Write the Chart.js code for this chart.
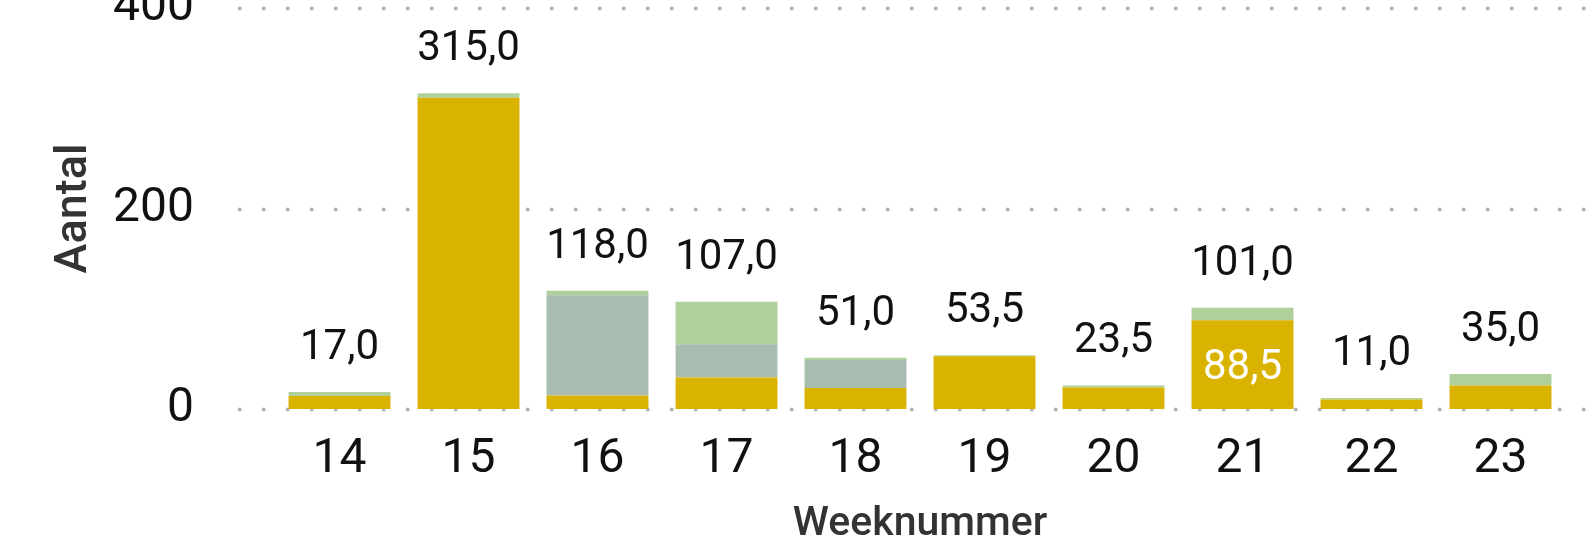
<!DOCTYPE html>
<html>
<head>
<meta charset="utf-8">
<script src="https://cdn.jsdelivr.net/npm/chart.js@4"></script>
<style>
  html, body { margin: 0; padding: 0; background: #fff; }
  #wrap { width: 1595px; height: 543px; }
</style>
</head>
<body>
<div id="wrap"><canvas id="myChart"></canvas></div>
<script>
// weeks and the three stacked series
const weeks = ['14', '15', '16', '17', '18', '19', '20', '21', '22', '23']
const geel = [13, 310.5, 13.5, 31.5, 21, 52.5, 21.5, 88.5, 9.5, 23.5]
const grijs = [0, 0, 100, 33, 28, 0, 0, 0, 0, 0]
const groen = [4, 4.5, 4.5, 42.5, 2, 1, 2, 12.5, 1.5, 11.5]
const yTicks = [0, 200, 400]
const insideLabelWeeks = ['21']

const fontFam = 'Roboto, "Noto Sans", sans-serif'

function fmt(v) {
  return v.toFixed(1).replace('.', ',')
}

// dotted grid lines that run past the plot area like in the original
const dotGrid = {
  id: 'dotGrid',
  beforeDatasetsDraw(chart) {
    const ctx = chart.ctx
    const y = chart.scales.y
    ctx.save()
    ctx.strokeStyle = '#b4b4b4'
    ctx.lineWidth = 3.5
    ctx.setLineDash([3.5, 20.5])
    yTicks.forEach(v => {
      const py = Math.round(y.getPixelForValue(v)) + 0.5
      ctx.beginPath()
      ctx.moveTo(chart.chartArea.left - 37, py)
      ctx.lineTo(chart.width, py)
      ctx.stroke()
    })
    ctx.restore()
  }
}

// totals above the bars + the one label inside the yellow part
const labels = {
  id: 'labels',
  afterDatasetsDraw(chart) {
    const ctx = chart.ctx
    ctx.save()
    ctx.textAlign = 'center'
    ctx.font = '42px ' + fontFam
    const top = chart.getDatasetMeta(2)
    const bottom = chart.getDatasetMeta(0)
    weeks.forEach((w, i) => {
      const total = geel[i] + grijs[i] + groen[i]
      const bar = top.data[i]
      ctx.fillStyle = '#111'
      ctx.textBaseline = 'alphabetic'
      ctx.fillText(fmt(total), bar.x, bar.y - 33)
      if (insideLabelWeeks.includes(w)) {
        const b = bottom.data[i]
        ctx.fillStyle = '#fff'
        ctx.textBaseline = 'middle'
        ctx.fillText(fmt(geel[i]), b.x, (b.y + b.base) / 2 + 4)
      }
    })
    ctx.restore()
  }
}

const ctx = document.getElementById('myChart')
new Chart(ctx, {
  type: 'bar',
  data: {
    labels: weeks,
    datasets: [
      { label: 'geel', data: geel, backgroundColor: '#d9b300' },
      { label: 'grijs', data: grijs, backgroundColor: '#a8bdb0' },
      { label: 'groen', data: groen, backgroundColor: '#afcf9b' }
    ]
  },
  options: {
    responsive: true,
    maintainAspectRatio: false,
    animation: false,
    layout: { padding: { top: 8, right: 30, left: 0, bottom: 0 } },
    datasets: { bar: { categoryPercentage: 1, barPercentage: 0.79, borderWidth: 0 } },
    plugins: { legend: { display: false }, tooltip: { enabled: false } },
    scales: {
      x: {
        stacked: true,
        grid: { display: false },
        border: { display: false },
        ticks: { color: '#111', font: { family: fontFam, size: 48 }, padding: 14 },
        title: {
          display: true, text: 'Weeknummer', color: '#333',
          font: { family: fontFam, size: 41, weight: '500', lineHeight: 0.9 },
          padding: { top: 0, bottom: 0 }
        },
        afterFit(s) { s.height = 134; s.paddingLeft = 0; s.paddingRight = 0 }
      },
      y: {
        stacked: true,
        min: 0,
        max: 400,
        grid: { display: false },
        border: { display: false },
        ticks: { stepSize: 200, color: '#111', font: { family: fontFam, size: 48 }, padding: 73 },
        title: {
          display: true, text: 'Aantal', color: '#333',
          font: { family: fontFam, size: 45, weight: '500', lineHeight: 1.2 },
          padding: { top: 48, bottom: 0 }
        },
        afterFit(s) { s.width = 275; s.paddingTop = 0; s.paddingBottom = 0 }
      }
    }
  },
  plugins: [dotGrid, labels]
})
</script>
</body>
</html>
